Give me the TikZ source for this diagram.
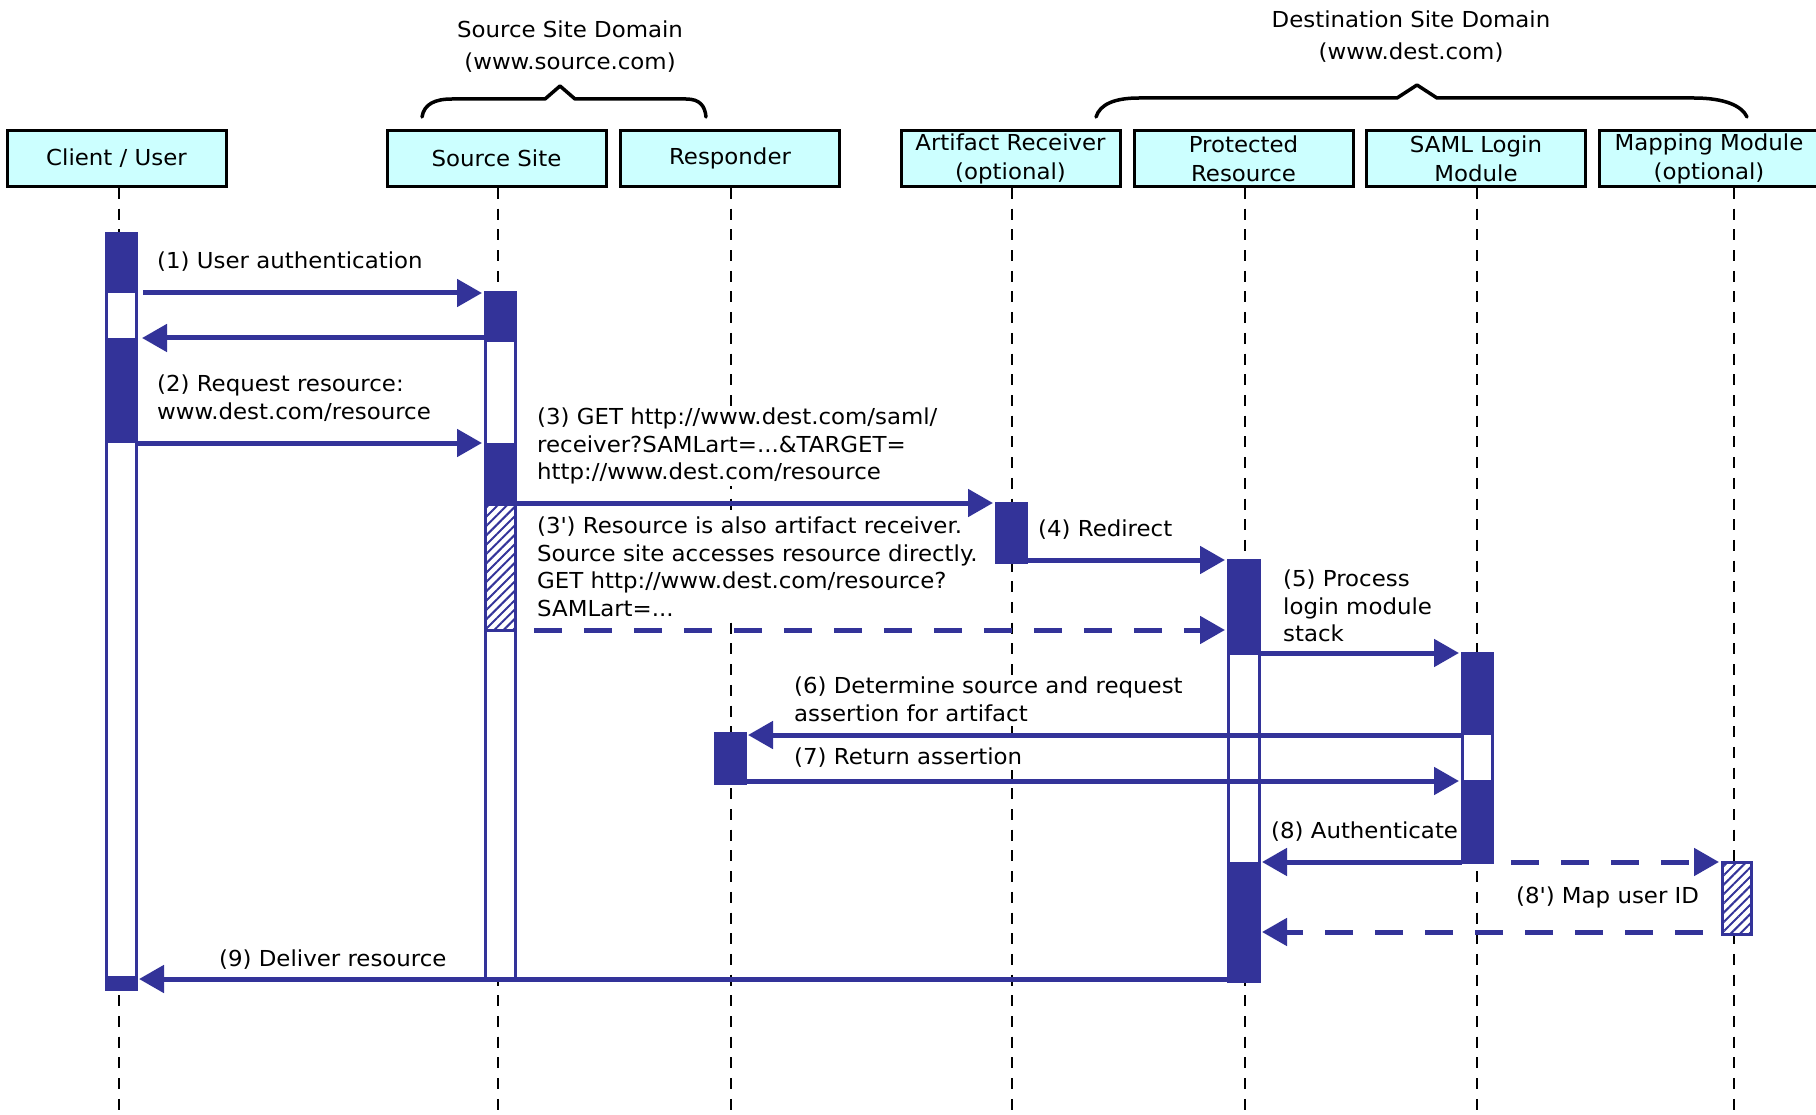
\documentclass[tikz,border=0pt]{standalone}
\usepackage{fontspec}
\setmainfont{DejaVu Sans}[FakeStretch=1.04]
\usetikzlibrary{arrows.meta,patterns.meta}
\definecolor{seqblue}{HTML}{333399}
\definecolor{hdrcyan}{HTML}{CCFFFF}

\begin{document}
\begin{tikzpicture}[x=1pt,y=-1pt,
  hdr/.style={draw=black, line width=3pt, fill=hdrcyan, minimum width=219pt,
    minimum height=56pt, inner sep=0pt, align=center,
    font=\fontsize{22}{29}\selectfont},
  lifeline/.style={draw=black, line width=2.5pt, dash pattern=on 11pt off 9.7pt},
  actbar/.style={draw=seqblue, line width=3pt, fill=white, minimum width=30pt,
    inner sep=0pt, outer sep=0pt, anchor=north},
  hatchfill/.style={pattern={Lines[angle=45,distance=6.6pt,line width=2pt]},
    pattern color=seqblue},
  msg/.style={draw=seqblue, line width=5pt, shorten >=3pt,
    -{Triangle[length=25pt,width=27pt]}},
  dmsg/.style={msg, dash pattern=on 28pt off 22pt, dash phase=31pt},
  lbl/.style={anchor=north west, align=left, inner sep=2pt, fill=white,
    font=\fontsize{22}{27.5}\selectfont},
  domlabel/.style={align=center, inner sep=0pt, font=\fontsize{22}{32}\selectfont},
  bracket/.style={draw=black, line width=3.5pt, line join=round, line cap=round}
]
\useasboundingbox (0,0) rectangle (1816,1115);

% participants
\node[hdr] (hc) at (116.5,158.5) {Client / User};
\node[hdr] (hs) at (496.5,158.5) {Source Site};
\node[hdr] (hr) at (730,158.5) {Responder};
\node[hdr] (ha) at (1010.5,158.5) {Artifact Receiver\\(optional)};
\node[hdr] (hp) at (1243.5,158.5) {Protected\\Resource};
\node[hdr] (hl) at (1476,158.5) {SAML Login\\Module};
\node[hdr] (hm) at (1709,158.5) {Mapping Module\\(optional)};

% domain groupings
\node[domlabel] (dsrc) at (570,47) {Source Site Domain\\(www.source.com)};
\node[domlabel] (ddst) at (1411,37) {Destination Site Domain\\(www.dest.com)};
\draw[bracket] (422,117) .. controls (424,104) and (435,99) .. (452,99) -- (545,99)
  -- (560,86) -- (575,99) -- (686,99) .. controls (700,99) and (705,106) .. (706,117);
\draw[bracket] (1096,117) .. controls (1100,104) and (1115,98) .. (1139,98) -- (1397,98)
  -- (1417,85) -- (1437,98) -- (1694,98) .. controls (1725,98) and (1742,106) .. (1747,117);

% lifelines
\draw[lifeline] (hc.south -| 119,0) -- (119,1115);
\draw[lifeline] (hs.south -| 498,0) -- (498,1115);
\draw[lifeline] (hr.south -| 731,0) -- (731,1115);
\draw[lifeline] (ha.south -| 1012,0) -- (1012,1115);
\draw[lifeline] (hp.south -| 1245,0) -- (1245,1115);
\draw[lifeline] (hl.south -| 1477,0) -- (1477,1115);
\draw[lifeline] (hm.south -| 1734,0) -- (1734,1115);

% message labels
\node[lbl] (t1) at (155,250) {(1) User authentication};
\node[lbl] (t2) at (155,373) {(2) Request resource:\\www.dest.com/resource};
\node[lbl] (t3) at (535,406) {(3) GET http://www.dest.com/saml/\\receiver?SAMLart=...\&TARGET=\\http://www.dest.com/resource};
\node[lbl] (t3b) at (535,515) {(3\textquotesingle) Resource is also artifact receiver.\\Source site accesses resource directly.\\GET http://www.dest.com/resource?\\SAMLart=...};
\node[lbl] (t4) at (1036,518) {(4) Redirect};
\node[lbl] (t5) at (1281,568) {(5) Process\\login module\\stack};
\node[lbl] (t6) at (792,675) {(6) Determine source and request\\assertion for artifact};
\node[lbl] (t7) at (792,746) {(7) Return assertion};
\node[lbl] (t8) at (1269,820) {(8) Authenticate};
\node[lbl] (t8b) at (1514,885) {(8\textquotesingle) Map user ID};
\node[lbl] (t9) at (217,948) {(9) Deliver resource};

% activation bars
\node[actbar, minimum height=755pt] (cbar) at (121,234) {};
\node[actbar, minimum height=686pt] (sbar) at (500,293) {};
\node[actbar, minimum height=50pt, fill=seqblue] (rbar) at (730,733) {};
\node[actbar, minimum height=59pt, fill=seqblue] (abar) at (1011,503) {};
\node[actbar, minimum height=421pt, minimum width=31pt] (pbar) at (1243.5,560) {};
\node[actbar, minimum height=209pt] (lbar) at (1477,653) {};
\node[actbar, minimum height=72pt, minimum width=29pt] (mbar) at (1736.5,862) {};

% busy parts of the bars
\fill[seqblue] (cbar.west |- 0,234) rectangle (cbar.east |- 0,293);
\fill[seqblue] (cbar.west |- 0,338) rectangle (cbar.east |- 0,443);
\fill[seqblue] (cbar.west |- 0,976) rectangle (cbar.east |- 0,989);
\fill[seqblue] (sbar.west |- 0,293) rectangle (sbar.east |- 0,342);
\fill[seqblue] (sbar.west |- 0,443) rectangle (sbar.east |- 0,504);
\fill[seqblue] (pbar.west |- 0,560) rectangle (pbar.east |- 0,655);
\fill[seqblue] (pbar.west |- 0,862) rectangle (pbar.east |- 0,981);
\fill[seqblue] (lbar.west |- 0,653) rectangle (lbar.east |- 0,735);
\fill[seqblue] (lbar.west |- 0,780) rectangle (lbar.east |- 0,862);
\path[hatchfill] (sbar.west |- 0,504) rectangle (sbar.east |- 0,630);
\draw[seqblue, line width=3pt] (sbar.west |- 0,504) rectangle (sbar.east |- 0,630);
\path[hatchfill] (mbar.north west) rectangle (mbar.south east);
\draw[seqblue, line width=3pt] (mbar.north west) rectangle (mbar.south east);

% messages
\draw[msg, shorten <=7pt] (cbar.east |- 0,293) -- (sbar.west |- 0,293);
\draw[msg, shorten >=6pt] (sbar.west |- 0,338) -- (cbar.east |- 0,338);
\draw[msg] (cbar.east |- 0,443) -- (sbar.west |- 0,443);
\draw[msg] (sbar.east |- 0,503) -- (abar.west |- 0,503);
\draw[dmsg] (sbar.east |- 0,630) -- (pbar.west |- 0,630);
\draw[msg] (abar.east |- 0,560) -- (pbar.west |- 0,560);
\draw[msg] (pbar.east |- 0,653) -- (lbar.west |- 0,653);
\draw[msg] (lbar.west |- 0,735) -- (rbar.east |- 0,735);
\draw[msg] (rbar.east |- 0,781) -- (lbar.west |- 0,781);
\draw[msg] (lbar.west |- 0,862) -- (pbar.east |- 0,862);
\draw[dmsg] (lbar.east |- 0,862) -- (mbar.west |- 0,862);
\draw[dmsg] (mbar.west |- 0,932) -- (pbar.east |- 0,932);
\draw[msg] (pbar.west |- 0,979) -- (cbar.east |- 0,979);
\end{tikzpicture}
\end{document}
